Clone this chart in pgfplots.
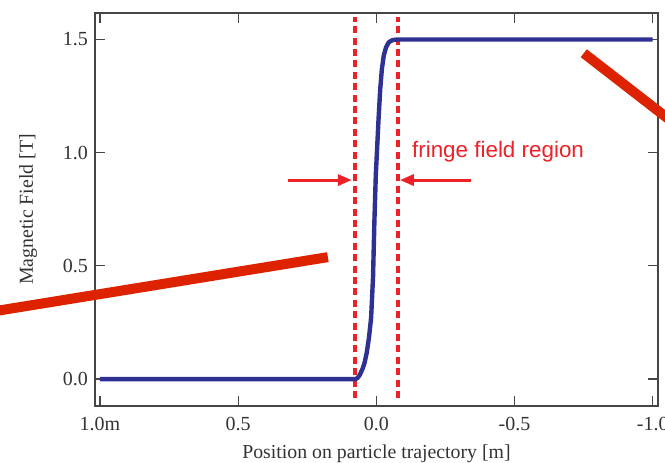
\documentclass[border=0pt]{standalone}
\usepackage{pgfplots}
\pgfplotsset{compat=1.18}
\usepackage{fontspec}
\setmainfont{Liberation Serif}
\newfontfamily\sansfont{Liberation Sans}
\usetikzlibrary{arrows.meta}
\definecolor{curveblue}{RGB}{46,49,146}
\definecolor{dashred}{RGB}{236,34,40}
\definecolor{barred}{RGB}{221,34,0}
\definecolor{framegray}{RGB}{70,70,70}
\begin{document}
\begin{tikzpicture}
\begin{axis}[
  scale only axis,
  width=281.5pt, height=196.5pt,
  x dir=reverse,
  xmin=-1.019, xmax=1.018,
  ymin=-0.119, ymax=1.617,
  clip=false,
  axis line style={draw=framegray, line width=0.6pt},
  tick style={draw=framegray, line width=0.6pt},
  tick align=inside,
  major tick length=5pt,
  xtick={1,0.5,0,-0.5,-1},
  xticklabels={1.0m,0.5,0.0,-0.5,-1.0},
  ytick={0,0.5,1,1.5},
  yticklabels={0.0,0.5,1.0,1.5},
  ticklabel style={font=\fontsize{10}{12}\selectfont, text=black!80},
  xticklabel style={yshift=-2pt},
  xlabel={Position on particle trajectory [m]},
  ylabel={Magnetic Field [T]},
  label style={font=\fontsize{9.9}{12}\selectfont, text=black!80},
  ylabel style={at={([xshift=-31pt]axis description cs:0,0.5)}, anchor=base},
]
\coordinate (O) at (rel axis cs:0,0);
% decorative red bars
\addplot[barred, line width=5pt, line cap=butt] coordinates {(1.3797,0.300) (0.1754,0.5386)};
\addplot[barred, line width=5pt, line cap=butt] coordinates {(-0.7505,1.4393) (-1.170,1.042)};
% fringe field boundaries
\addplot[dashred, line width=1.8pt, dash pattern=on 3.5pt off 2.2pt] coordinates {(0.0778,-0.084) (0.0778,1.598)};
\addplot[dashred, line width=1.8pt, dash pattern=on 3.5pt off 2.2pt] coordinates {(-0.0778,-0.084) (-0.0778,1.598)};
% field profile
\addplot[curveblue, line width=2.2pt, line join=round, line cap=butt] coordinates {
(1.0,0) (0.075,0) (0.068,0.005) (0.06,0.018) (0.05,0.045) (0.043,0.07)
(0.035,0.115) (0.027,0.18) (0.019,0.27) (0.012,0.45) (0.007,0.70)
(0.002,0.90) (-0.004,1.05) (-0.008,1.15) (-0.014,1.28) (-0.020,1.37)
(-0.027,1.43) (-0.035,1.465) (-0.045,1.488) (-0.058,1.497) (-0.076,1.5)
(-1.0,1.5)};
% arrows
\addplot[dashred, line width=1.5pt, -{Triangle[length=7pt,width=5.5pt]}] coordinates {(0.320,0.879) (0.0886,0.879)};
\addplot[dashred, line width=1.5pt, -{Triangle[length=7pt,width=5.5pt]}] coordinates {(-0.3418,0.879) (-0.085,0.879)};
\node[anchor=base west, inner sep=0pt, text=dashred, font=\sansfont\fontsize{11.2}{13}\selectfont] at (axis cs:-0.128,0.98) {fringe field region};
\end{axis}
\pgfresetboundingbox
\path[use as bounding box] ([shift={(-47.5pt,-28pt)}]O) rectangle ([shift={(285pt,203pt)}]O);
\end{tikzpicture}
\end{document}
